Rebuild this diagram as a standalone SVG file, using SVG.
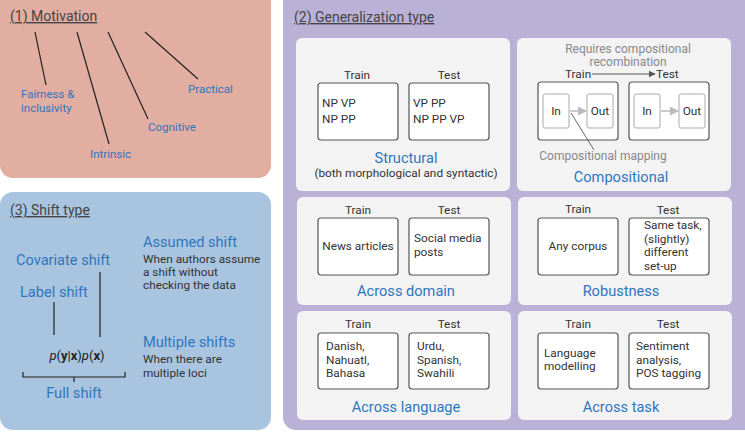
<svg xmlns="http://www.w3.org/2000/svg" width="745" height="435" viewBox="0 0 745 435">
<defs>
<style>
text{font-family:Roboto,"Liberation Sans",sans-serif;}
.title{font-size:14px;fill:#444;text-decoration:underline;}
.lbl{font-size:11.5px;fill:#2f76bd;}
.big{font-size:14.6px;fill:#2f76bd;}
.dk{font-size:11.8px;fill:#333;}
.sm{font-size:11.8px;fill:#333;}
.gr{font-size:12px;fill:#888;}
.card{fill:#f3f3f4;}
.box{fill:#fff;stroke:#555;stroke-width:1.2;}
.ibox{fill:#fff;stroke:#aaa;stroke-width:1;}
.ln{stroke:#222;stroke-width:1.2;fill:none;}
</style>
<marker id="ah" viewBox="0 0 10 10" refX="9" refY="5" markerWidth="6" markerHeight="6" orient="auto"><path d="M0,0L10,5L0,10z" fill="#bbb"/></marker>
<marker id="ahd" viewBox="0 0 10 10" refX="9" refY="5" markerWidth="6" markerHeight="6" orient="auto"><path d="M0,0L10,5L0,10z" fill="#555"/></marker>
</defs>

<g id="panel-motivation">
<rect x="0" y="-12" width="271" height="190" rx="13" fill="#e2aea1"/>
<text x="10" y="21" class="title">(1) Motivation</text>
<text x="21" y="98" class="lbl">Fairness &amp;</text>
<text x="21" y="112" class="lbl">inclusivity</text>
<text x="90" y="158" class="lbl">Intrinsic</text>
<text x="148" y="131" class="lbl">Cognitive</text>
<text x="188" y="93" class="lbl">Practical</text>
</g>

<g id="panel-shift">
<rect x="0" y="192" width="271" height="238" rx="13" fill="#a8c4df"/>
<text x="10" y="215" class="title">(3) Shift type</text>
<text x="143" y="247" class="big">Assumed shift</text>
<text x="143" y="263" class="sm">When authors assume</text>
<text x="143" y="276" class="sm">a shift without</text>
<text x="143" y="289" class="sm">checking the data</text>
<text x="16" y="265" class="big">Covariate shift</text>
<text x="20" y="297" class="big">Label shift</text>
<text x="143" y="347" class="big">Multiple shifts</text>
<text x="143" y="363" class="sm">When there are</text>
<text x="143" y="377" class="sm">multiple loci</text>
<text x="77" y="360" text-anchor="middle" style="font-size:13px;fill:#222"><tspan font-style="italic">p</tspan>(<tspan font-weight="bold">y</tspan>|<tspan font-weight="bold">x</tspan>)<tspan font-style="italic">p</tspan>(<tspan font-weight="bold">x</tspan>)</text>
<text x="74" y="398" text-anchor="middle" class="big">Full shift</text>
</g>

<g id="panel-generalization">
<rect x="283" y="-12" width="474" height="442" rx="13" fill="#b9b2d6"/>
<text x="294" y="22" class="title">(2) Generalization type</text>
</g>

<g id="card-structural">
<rect x="296" y="38" width="214" height="153" rx="6" class="card"/>
<text x="357" y="79" text-anchor="middle" class="dk">Train</text>
<text x="449" y="79" text-anchor="middle" class="dk">Test</text>
<rect x="318" y="83" width="80" height="57" rx="3" class="box"/>
<rect x="409" y="83" width="80" height="57" rx="3" class="box"/>
<text x="322" y="107" class="dk">NP VP</text>
<text x="322" y="123" class="dk">NP PP</text>
<text x="413" y="107" class="dk">VP PP</text>
<text x="413" y="123" class="dk">NP PP VP</text>
<text x="406" y="163" text-anchor="middle" class="big">Structural</text>
<text x="406" y="177" text-anchor="middle" class="dk">(both morphological and syntactic)</text>
</g>

<g id="card-compositional">
<rect x="517" y="38" width="214" height="153" rx="6" class="card"/>
<text x="628" y="53" text-anchor="middle" class="gr">Requires compositional</text>
<text x="628" y="66" text-anchor="middle" class="gr">recombination</text>
<text x="565" y="78" class="dk">Train</text>
<text x="656" y="78" class="dk">Test</text>
<rect x="538" y="82" width="80" height="58" rx="3" class="box"/>
<rect x="629" y="82" width="80" height="58" rx="3" class="box"/>
<rect x="543" y="94" width="26" height="34" rx="2" class="ibox"/>
<rect x="587" y="94" width="26" height="34" rx="2" class="ibox"/>
<rect x="634" y="94" width="26" height="34" rx="2" class="ibox"/>
<rect x="679" y="94" width="26" height="34" rx="2" class="ibox"/>
<text x="556" y="115" text-anchor="middle" class="dk">In</text>
<text x="600" y="115" text-anchor="middle" class="dk">Out</text>
<text x="647" y="115" text-anchor="middle" class="dk">In</text>
<text x="692" y="115" text-anchor="middle" class="dk">Out</text>
<text x="603" y="160" text-anchor="middle" class="gr">Compositional mapping</text>
<text x="621" y="182" text-anchor="middle" class="big">Compositional</text>
</g>

<g id="card-domain">
<rect x="297" y="197" width="214" height="108" rx="6" class="card"/>
<text x="358" y="214" text-anchor="middle" class="dk">Train</text>
<text x="449" y="214" text-anchor="middle" class="dk">Test</text>
<rect x="318" y="218" width="80" height="57" rx="3" class="box"/>
<rect x="409" y="218" width="80" height="57" rx="3" class="box"/>
<text x="358" y="250" text-anchor="middle" class="dk">News articles</text>
<text x="414" y="242" class="dk">Social media</text>
<text x="414" y="256" class="dk">posts</text>
<text x="406" y="296" text-anchor="middle" class="big">Across domain</text>
</g>

<g id="card-robustness">
<rect x="518" y="197" width="214" height="108" rx="6" class="card"/>
<text x="578" y="213" text-anchor="middle" class="dk">Train</text>
<text x="668" y="214" text-anchor="middle" class="dk">Test</text>
<rect x="538" y="218" width="80" height="57" rx="3" class="box"/>
<rect x="629" y="218" width="80" height="57" rx="3" class="box"/>
<text x="578" y="250" text-anchor="middle" class="dk">Any corpus</text>
<text x="644" y="229" class="dk">Same task,</text>
<text x="644" y="243" class="dk">(slightly)</text>
<text x="644" y="256" class="dk">different</text>
<text x="644" y="270" class="dk">set-up</text>
<text x="621" y="296" text-anchor="middle" class="big">Robustness</text>
</g>

<g id="card-language">
<rect x="297" y="311" width="214" height="109" rx="6" class="card"/>
<text x="358" y="328" text-anchor="middle" class="dk">Train</text>
<text x="449" y="328" text-anchor="middle" class="dk">Test</text>
<rect x="318" y="333" width="80" height="56" rx="3" class="box"/>
<rect x="409" y="333" width="80" height="56" rx="3" class="box"/>
<text x="326" y="350" class="dk">Danish,</text>
<text x="326" y="364" class="dk">Nahuatl,</text>
<text x="326" y="377" class="dk">Bahasa</text>
<text x="417" y="350" class="dk">Urdu,</text>
<text x="417" y="364" class="dk">Spanish,</text>
<text x="417" y="377" class="dk">Swahili</text>
<text x="406" y="412" text-anchor="middle" class="big">Across language</text>
</g>

<g id="card-task">
<rect x="518" y="311" width="214" height="109" rx="6" class="card"/>
<text x="578" y="328" text-anchor="middle" class="dk">Train</text>
<text x="668" y="328" text-anchor="middle" class="dk">Test</text>
<rect x="538" y="333" width="80" height="56" rx="3" class="box"/>
<rect x="629" y="333" width="80" height="56" rx="3" class="box"/>
<text x="544" y="357" class="dk">Language</text>
<text x="544" y="370" class="dk">modelling</text>
<text x="636" y="350" class="dk">Sentiment</text>
<text x="636" y="364" class="dk">analysis,</text>
<text x="636" y="377" class="dk">POS tagging</text>
<text x="621" y="412" text-anchor="middle" class="big">Across task</text>
</g>

<g id="connectors">
<line x1="35" y1="32" x2="46" y2="85" class="ln"/>
<line x1="77" y1="32" x2="109" y2="144" class="ln"/>
<line x1="108" y1="32" x2="148" y2="119" class="ln"/>
<line x1="145" y1="32" x2="198" y2="79" class="ln"/>
<line x1="54" y1="302" x2="54" y2="335" class="ln"/>
<line x1="100" y1="272" x2="100" y2="337" class="ln"/>
<path d="M23,372V377H125V372M74,377V382" class="ln"/>
<line x1="592" y1="74" x2="655" y2="74" stroke="#555" stroke-width="1.2" marker-end="url(#ahd)"/>
<line x1="570" y1="111" x2="586" y2="111" stroke="#bbb" stroke-width="1.5" marker-end="url(#ah)"/>
<line x1="661" y1="111" x2="678" y2="111" stroke="#bbb" stroke-width="1.5" marker-end="url(#ah)"/>
<line x1="571" y1="113" x2="594" y2="150" stroke="#666" stroke-width="1"/>
</g>
</svg>
